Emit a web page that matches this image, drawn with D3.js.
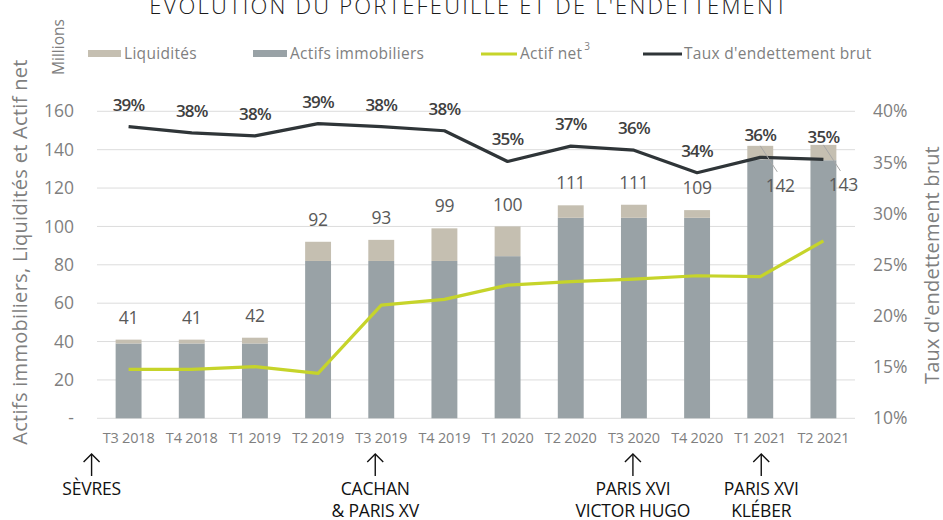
<!DOCTYPE html>
<html><head><meta charset="utf-8">
<script src="https://cdn.jsdelivr.net/npm/d3@7"></script>
<style>
html,body{margin:0;padding:0;background:#fff;}
svg{display:block;font-family:"Open Sans",sans-serif;}
</style></head>
<body><svg id="c" width="943" height="520"></svg>
<script>
const categories = ["T3 2018","T4 2018","T1 2019","T2 2019","T3 2019","T4 2019","T1 2020","T2 2020","T3 2020","T4 2020","T1 2021","T2 2021"];
const actifsImmobiliers = [39,39,39,82,82,82,84.5,104.5,104.5,104.5,135,134.5];
const liquidites = [2,2,3,10,11,17,15.5,6.5,6.8,4,7,8];
const totalLabels = ["41","41","42","92","93","99","100","111","111","109","142","143"];
const actifNet = [25.5,25.5,26.9,23.4,59,62,69.4,71.2,72.5,74.3,73.8,92.5];
const tauxEndettement = [0.385,0.379,0.376,0.388,0.385,0.381,0.351,0.366,0.362,0.340,0.355,0.353];
const tauxLabels = ["39%","38%","38%","39%","38%","38%","35%","37%","36%","34%","36%","35%"];
const leftTicks = [0,20,40,60,80,100,120,140,160];
const rightTicks = [0.10,0.15,0.20,0.25,0.30,0.35,0.40];
const annotations = [
  {cat:"T3 2018", lines:["SÈVRES"], dx:-37},
  {cat:"T3 2019", lines:["CACHAN","& PARIS XV"], dx:-6},
  {cat:"T3 2020", lines:["PARIS XVI","VICTOR HUGO"], dx:-1},
  {cat:"T1 2021", lines:["PARIS XVI","KLÉBER"], dx:1}
];
const titleText = "ÉVOLUTION DU PORTEFEUILLE ET DE L'ENDETTEMENT";

const C = {immo:"#99a2a6", liq:"#c5bfb1", net:"#c6d42a", taux:"#2f3538", grid:"#dcdcdc", tick:"#7f7f7f"};
const svg = d3.select("#c");
const plot = {l:97, r:855, t:111.3, b:418.3};

const x = d3.scaleBand().domain(categories).range([plot.l, plot.r]).paddingInner(0.59).paddingOuter(0.295);
const yL = d3.scaleLinear().domain([0,160]).range([plot.b, plot.t]);
const yR = d3.scaleLinear().domain([0.10,0.40]).range([plot.b, plot.t]);
const cx = c => x(c) + x.bandwidth()/2;

// title
svg.append("text").attr("x",469).attr("y",14).attr("text-anchor","middle")
  .attr("font-size",22).attr("fill","#1a1a1a").attr("letter-spacing",2.2).attr("font-weight",300).text(titleText);

// gridlines
svg.append("g").selectAll("line").data(leftTicks).join("line")
  .attr("x1",plot.l).attr("x2",plot.r).attr("y1",d=>yL(d)).attr("y2",d=>yL(d))
  .attr("stroke",C.grid).attr("stroke-width",1);

// left axis
const gL = svg.append("g").attr("transform",`translate(74,0)`)
  .call(d3.axisLeft(yL).tickValues(leftTicks).tickSize(0).tickPadding(0).tickFormat(d=> d===0 ? "-  " : d));
gL.select(".domain").remove();
gL.selectAll("text").attr("font-size",17.5).attr("fill",C.tick).attr("font-family","Open Sans");

// right axis
const gR = svg.append("g").attr("transform",`translate(873,0)`)
  .call(d3.axisRight(yR).tickValues(rightTicks).tickSize(0).tickPadding(0).tickFormat(d3.format(".0%")));
gR.select(".domain").remove();
gR.selectAll("text").attr("font-size",17.5).attr("fill",C.tick).attr("font-family","Open Sans");

// x axis
const gX = svg.append("g").attr("transform",`translate(0,${plot.b+14})`)
  .call(d3.axisBottom(x).tickSize(0).tickPadding(0));
gX.select(".domain").remove();
gX.selectAll("text").attr("font-size",14.5).attr("fill",C.tick).attr("font-family","Open Sans").attr("letter-spacing",-0.2);

// bars
const stackData = categories.map((c,i)=>({cat:c, immo:actifsImmobiliers[i], liq:liquidites[i]}));
const series = d3.stack().keys(["immo","liq"])(stackData);
svg.append("g").selectAll("g").data(series).join("g")
  .attr("fill",d=>C[d.key])
  .selectAll("rect").data(d=>d).join("rect")
  .attr("x",d=>x(d.data.cat)).attr("width",x.bandwidth())
  .attr("y",d=>yL(d[1])).attr("height",d=>yL(d[0])-yL(d[1]));

// lines
const lineL = d3.line().x((d,i)=>cx(categories[i])).y(d=>yL(d));
const lineR = d3.line().x((d,i)=>cx(categories[i])).y(d=>yR(d));
svg.append("path").datum(actifNet).attr("d",lineL).attr("fill","none").attr("stroke",C.net).attr("stroke-width",3.2).attr("stroke-linejoin","round");
svg.append("path").datum(tauxEndettement).attr("d",lineR).attr("fill","none").attr("stroke",C.taux).attr("stroke-width",3.2).attr("stroke-linejoin","round");

// total labels
const gT = svg.append("g");
categories.forEach((c,i)=>{
  const top = yL(actifsImmobiliers[i]+liquidites[i]);
  let ly = top - 22, lx = cx(c);
  const lineY = yR(tauxEndettement[i]);
  if (ly < lineY + 5) {
    lx = cx(c) + 20; ly = top + 40;
    gT.append("line").attr("x1",cx(c)).attr("y1",top).attr("x2",lx-3).attr("y2",ly-14)
      .attr("stroke","#a6a6a6").attr("stroke-width",1);
  }
  gT.append("text").attr("x",lx).attr("y",ly).attr("dy","0.35em").attr("text-anchor","middle")
    .attr("font-size",17.5).attr("fill","#595959").attr("letter-spacing",-0.3).text(totalLabels[i]);
});

// taux labels
svg.append("g").selectAll("text").data(tauxEndettement).join("text")
  .attr("x",(d,i)=>cx(categories[i])).attr("y",d=>yR(d)-22).attr("dy","0.35em")
  .attr("text-anchor","middle").attr("font-size",17).attr("font-weight",600).attr("fill","#404040")
  .attr("letter-spacing",-0.8).text((d,i)=>tauxLabels[i]);

// legend
const lg = svg.append("g").attr("font-size",15.5).attr("fill",C.tick).attr("letter-spacing",0.3);
lg.append("rect").attr("x",88).attr("y",50).attr("width",33).attr("height",7).attr("fill",C.liq);
lg.append("text").attr("x",124).attr("y",54).attr("dy","0.35em").text("Liquidités");
lg.append("rect").attr("x",253).attr("y",50).attr("width",34).attr("height",7).attr("fill",C.immo);
lg.append("text").attr("x",290).attr("y",54).attr("dy","0.35em").text("Actifs immobiliers");
lg.append("line").attr("x1",481).attr("x2",517).attr("y1",54).attr("y2",54).attr("stroke",C.net).attr("stroke-width",3);
const an = lg.append("text").attr("x",520).attr("y",54).attr("dy","0.35em").text("Actif net");
an.append("tspan").attr("font-size",10).attr("dy","-0.9em").attr("dx",2).text("3");
lg.append("line").attr("x1",643).attr("x2",682).attr("y1",54).attr("y2",54).attr("stroke",C.taux).attr("stroke-width",3);
lg.append("text").attr("x",684).attr("y",54).attr("dy","0.35em").text("Taux d'endettement brut");

// axis titles
svg.append("text").attr("transform","translate(27,252) rotate(-90)").attr("text-anchor","middle")
  .attr("font-size",20).attr("fill",C.tick).attr("letter-spacing",0.3).text("Actifs immobiliers, Liquidités  et Actif net");
svg.append("text").attr("transform","translate(64,47) rotate(-90)").attr("text-anchor","middle")
  .attr("font-size",15.5).attr("fill",C.tick).text("Millions");
svg.append("text").attr("transform","translate(939,265) rotate(-90)").attr("text-anchor","middle")
  .attr("font-size",20).attr("fill",C.tick).attr("letter-spacing",0.2).text("Taux d'endettement brut");

// annotations
const ga = svg.append("g");
annotations.forEach(a=>{
  const ax = cx(a.cat) + a.dx;
  ga.append("line").attr("x1",ax).attr("x2",ax).attr("y1",454).attr("y2",476).attr("stroke","#111").attr("stroke-width",1.4);
  ga.append("path").attr("d",`M${ax-8},${462}L${ax},${454}L${ax+8},${462}`).attr("fill","none").attr("stroke","#111").attr("stroke-width",1.4);
  a.lines.forEach((t,k)=>{
    ga.append("text").attr("x",ax).attr("y",489+k*22).attr("dy","0.35em").attr("text-anchor","middle")
      .attr("font-size",17.5).attr("fill","#111").attr("letter-spacing",-0.2).text(t);
  });
});
</script></body></html>
